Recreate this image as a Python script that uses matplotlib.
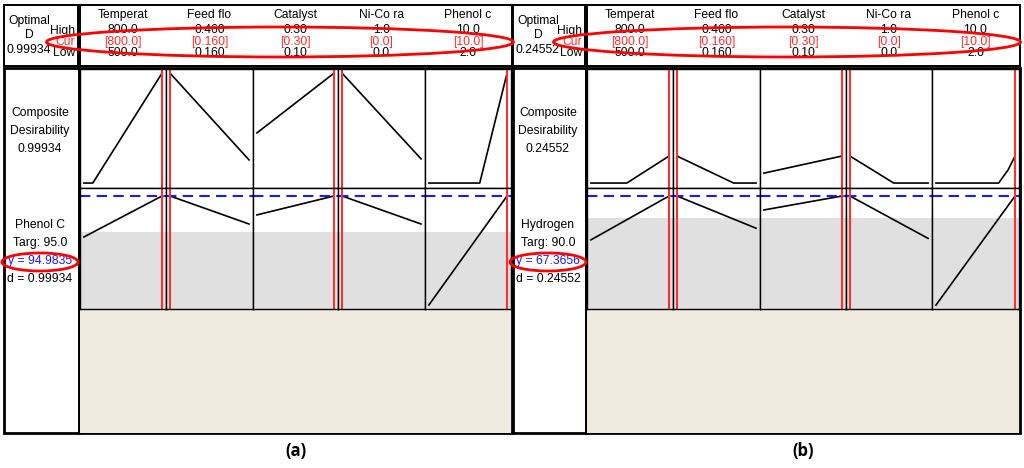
import matplotlib
matplotlib.use('Agg')
import matplotlib.pyplot as plt
from matplotlib.patches import Rectangle, Ellipse

plt.rcParams['font.family'] = ['Liberation Sans', 'DejaVu Sans']

# ---------------- data ----------------
factors = ['Temperat', 'Feed flo', 'Catalyst', 'Ni-Co ra', 'Phenol c']
high_txt = ['800.0', '0.460', '0.30', '1.0', '10.0']
cur_txt = ['[800.0]', '[0.160]', '[0.30]', '[0.0]', '[10.0]']
low_txt = ['500.0', '0.160', '0.10', '0.0', '2.0']
f_low = [500, 0.160, 0.10, 0.0, 2.0]
f_high = [800, 0.460, 0.30, 1.0, 10.0]
f_cur = [800, 0.160, 0.30, 0.0, 10.0]

# panel (a): Phenol conversion
a_D = '0.99934'
a_resp = 'Phenol C'
a_targ = 'Targ: 95.0'
a_y = 94.9835
a_lower = 70.0
a_ylim = (16.5, 100.5)
a_desir_x = [[500, 534, 800], [0.16, 0.46], [0.10, 0.30], [0.0, 1.0], [2.0, 7.2, 10.0]]
a_desir_y = [[0, 0, 0.999], [0.999, 0.21], [0.455, 0.999], [0.999, 0.22], [0, 0, 0.999]]
a_resp_x = [[500, 800], [0.16, 0.46], [0.10, 0.30], [0.0, 1.0], [2.0, 10.0]]
a_resp_y = [[66.5, 94.98], [94.98, 75.5], [81.8, 94.98], [94.98, 75.5], [19.3, 94.98]]

# panel (b): Hydrogen
b_D = '0.24552'
b_resp = 'Hydrogen'
b_targ = 'Targ: 90.0'
b_y = 67.3656
b_lower = 60.0
b_ylim = (29.6, 70.04)
b_desir_x = [[500, 638, 800], [0.16, 0.375, 0.46], [0.10, 0.30], [0.0, 0.56, 1.0], [2.0, 8.34, 9.3, 10.0]]
b_desir_y = [[0, 0, 0.2455], [0.2455, 0, 0], [0.09, 0.2455], [0.2455, 0, 0], [0, 0, 0.12, 0.2455]]
b_resp_x = [[500, 800], [0.16, 0.46], [0.10, 0.30], [0.0, 1.0], [2.0, 10.0]]
b_resp_y = [[52.7, 67.37], [67.37, 56.6], [62.7, 67.37], [67.37, 53.2], [30.9, 67.37]]

# ---------------- layout (pixels) ----------------
W, H = 1024, 468
fig = plt.figure(figsize=(W / 100, H / 100), dpi=100)
fig.patch.set_facecolor('white')


def rect(x0, y0, x1, y1):
    return [x0 / W, 1 - y1 / H, (x1 - x0) / W, (y1 - y0) / H]


bg = fig.add_axes([0, 0, 1, 1], zorder=0)
bg.set_xlim(0, W)
bg.set_ylim(H, 0)
bg.axis('off')

ov = fig.add_axes([0, 0, 1, 1], zorder=5)
ov.set_xlim(0, W)
ov.set_ylim(H, 0)
ov.axis('off')
ov.patch.set_alpha(0)

RED = '#ff3030'
BLUE = '#1a1aff'
FS = 8.7


def box(x0, y0, x1, y1, lw=1.4):
    bg.add_patch(Rectangle((x0, y0), x1 - x0, y1 - y0, fill=False, ec='black', lw=lw))


def panel(x_left, cols, D, resp, targ, yval, lower, ylim, dx, dy, rx, ry, label, ell_cx):
    lc = (x_left + cols[0]) / 2 - 2
    # frames
    box(x_left, 5, cols[0] - 2, 66)
    box(cols[0], 5, cols[-1] + 1, 66)
    box(x_left, 68, cols[0] - 1, 433, lw=2)
    box(cols[0] - 1, 68, cols[-1] + 1, 433, lw=2)
    bg.add_patch(Rectangle((cols[0], 309), cols[-1] - cols[0], 124, color='#eeeae0', lw=0))

    # header left
    bg.text(x_left + 25, 21, 'Optimal', ha='center', va='center', fontsize=FS)
    bg.text(x_left + 25, 35, 'D', ha='center', va='center', fontsize=FS)
    bg.text(x_left + 25, 50, D, ha='center', va='center', fontsize=FS)
    bg.text(cols[0] - 5, 31, 'High', ha='right', va='center', fontsize=FS)
    bg.text(cols[0] - 5, 42, 'Cur', ha='right', va='center', fontsize=FS, color=RED)
    bg.text(cols[0] - 5, 53, 'Low', ha='right', va='center', fontsize=FS)

    # left column texts
    bg.text(lc, 113, 'Composite', ha='center', va='center', fontsize=FS)
    bg.text(lc, 131, 'Desirability', ha='center', va='center', fontsize=FS)
    bg.text(lc, 149, D, ha='center', va='center', fontsize=FS)
    bg.text(lc, 225, resp, ha='center', va='center', fontsize=FS)
    bg.text(lc, 243, targ, ha='center', va='center', fontsize=FS)
    bg.text(lc, 261, 'y = %.4f' % yval, ha='center', va='center', fontsize=FS, color=BLUE)
    bg.text(lc, 279, 'd = ' + D, ha='center', va='center', fontsize=FS)

    for i in range(5):
        cx = (cols[i] + cols[i + 1]) / 2
        bg.text(cx, 15, factors[i], ha='center', va='center', fontsize=FS)
        bg.text(cx, 30, high_txt[i], ha='center', va='center', fontsize=FS)
        bg.text(cx, 42, cur_txt[i], ha='center', va='center', fontsize=FS, color=RED)
        bg.text(cx, 53, low_txt[i], ha='center', va='center', fontsize=FS)

        pad = 0.05 * (f_high[i] - f_low[i])
        xl = (f_low[i] - pad, f_high[i] + pad)

        top = fig.add_axes(rect(cols[i], 69, cols[i + 1], 188), zorder=2)
        top.plot(dx[i], dy[i], color='black', lw=1.2)
        top.set_xlim(xl)
        top.set_ylim(-0.045, 1.036)

        bot = fig.add_axes(rect(cols[i], 188, cols[i + 1], 309), zorder=2)
        bot.axhspan(ylim[0], lower, color='#e0e0e0', lw=0)
        bot.plot(rx[i], ry[i], color='black', lw=1.2)
        bot.axhline(yval, color=BLUE, ls=(0, (5, 3)), lw=1.5)
        bot.set_xlim(xl)
        bot.set_ylim(ylim)

        for ax in (top, bot):
            ax.axvline(f_cur[i], color=RED, lw=1.5)
            ax.set_xticks([])
            ax.set_yticks([])
            for s in ax.spines.values():
                s.set_linewidth(1.0)

    # annotations
    ov.add_patch(Ellipse((ell_cx, 42), 467, 30, fill=False, ec='red', lw=2))
    ov.add_patch(Ellipse((lc, 262), 76, 18, fill=False, ec='red', lw=2))
    ov.text((cols[0] + cols[-1]) / 2, 451, label, ha='center', va='center',
            fontsize=12, fontweight='bold', family=['Open Sans', 'DejaVu Sans'])


panel(4, [80, 166, 253, 338, 425, 511], a_D, a_resp, a_targ, a_y, a_lower, a_ylim,
      a_desir_x, a_desir_y, a_resp_x, a_resp_y, '(a)', 280)
panel(513, [587, 673, 760, 846, 932, 1019], b_D, b_resp, b_targ, b_y, b_lower, b_ylim,
      b_desir_x, b_desir_y, b_resp_x, b_resp_y, '(b)', 787)

fig.savefig('out.png', dpi=100)
